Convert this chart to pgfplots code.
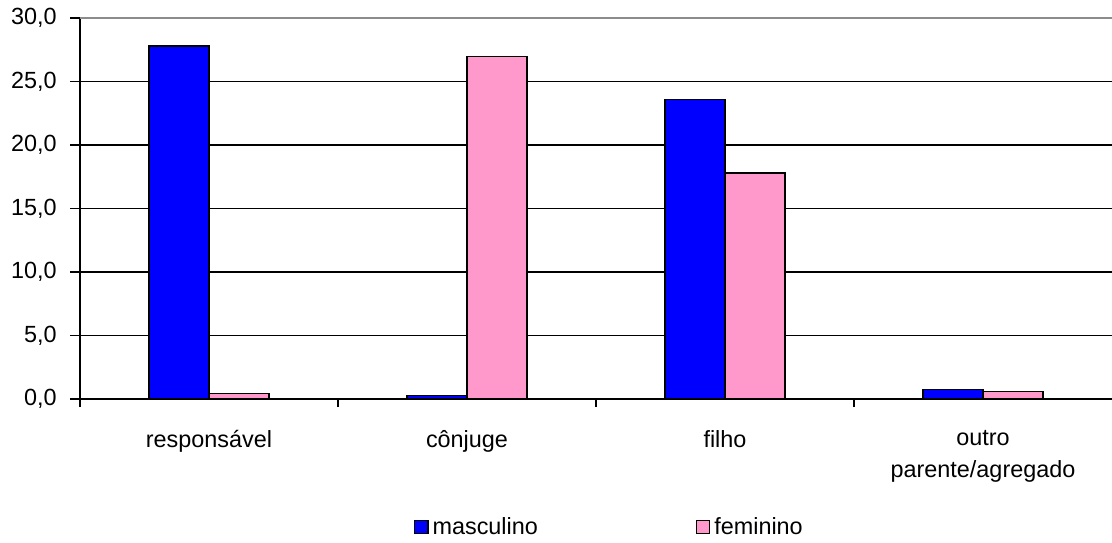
\documentclass[border=0pt]{standalone}
\usepackage{pgfplots}
\pgfplotsset{compat=1.18}
\usepackage{fontspec}
\setmainfont{Liberation Sans}
\definecolor{barblue}{RGB}{0,0,255}
\definecolor{barpink}{RGB}{255,153,204}
\begin{document}
\fontsize{11.7pt}{14pt}\selectfont
\begin{tikzpicture}
\useasboundingbox (-40pt,-71.5pt) rectangle (516pt,199.5pt);
\begin{axis}[
  scale only axis,
  width=516pt, height=190.5pt,
  ybar=0pt,
  bar width=0.2326,
  xmin=-0.5, xmax=3.5,
  ymin=0, ymax=30,
  ytick={0,5,...,25},
  extra y ticks={30},
  extra y tick style={grid style={gray!90, line width=0.7pt}},
  ymajorgrids,
  grid style={black, line width=0.6pt},
  xtick={0,1,2,3},
  xticklabels={respons\'avel, c\^onjuge, filho, {outro\\parente/agregado}},
  xticklabel style={align=center, font=\fontsize{11.7pt}{16pt}\selectfont, yshift=-6.5pt},
  major x tick style={draw=none},
  minor xtick={-0.5,0.5,1.5,2.5},
  minor x tick style={black, line width=0.6pt},
  minor tick length=4pt,
  xtick pos=bottom,
  ytick pos=left,
  tick align=outside,
  major tick length=5pt,
  y tick style={black, line width=0.6pt},
  axis x line*=bottom,
  axis y line*=left,
  axis line style={black, line width=0.6pt},
  /pgf/number format/fixed,
  /pgf/number format/fixed zerofill,
  /pgf/number format/precision=1,
  /pgf/number format/use comma,
  /pgf/number format/assume math mode=true,
  ticklabel style={font=\fontsize{11.7pt}{14pt}\selectfont},
  yticklabel style={xshift=-2.6pt},
  legend style={at={(0.514,-0.338)}, anchor=center, draw=none, font=\fontsize{11.7pt}{14pt}\selectfont,
    legend columns=2, /tikz/every even column/.append style={column sep=77pt}},
  legend image code/.code={\draw[#1, draw=black, line width=0.6pt] (0pt,-3pt) rectangle (6.6pt,3.6pt);},
]
\addplot[fill=barblue, draw=black, line width=0.6pt] coordinates {(0,27.8) (1,0.3) (2,23.6) (3,0.73)};
\addplot[fill=barpink, draw=black, line width=0.6pt] coordinates {(0,0.45) (1,27.0) (2,17.8) (3,0.58)};
\legend{masculino, feminino}
\end{axis}
\end{tikzpicture}
\end{document}
